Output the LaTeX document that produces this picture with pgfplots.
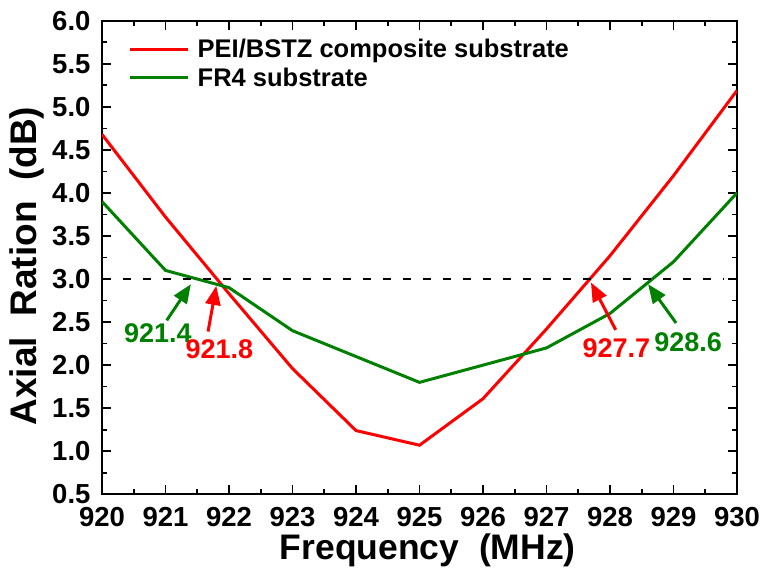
\documentclass[border=0pt]{standalone}
\usepackage{pgfplots}
\pgfplotsset{compat=1.18}
\usepackage{fontspec}
\setmainfont{Liberation Sans}
\usetikzlibrary{arrows.meta}

\definecolor{arred}{RGB}{255,0,0}
\definecolor{argreen}{RGB}{0,128,0}

\begin{document}
\begin{tikzpicture}[x=1pt,y=1pt]
\path[use as bounding box] (-102,-73.7) rectangle (659,494.3);
\begin{axis}[
  scale only axis, width=635pt, height=473.6pt,
  xmin=920, xmax=930, ymin=0.5, ymax=6.0,
  xtick={920,921,922,923,924,925,926,927,928,929,930},
  ytick={0.5,1.0,1.5,2.0,2.5,3.0,3.5,4.0,4.5,5.0,5.5,6.0},
  minor x tick num=1, minor y tick num=1,
  tick align=inside,
  major tick length=9pt, minor tick length=5pt,
  axis line style={line width=2pt},
  tick style={line width=1.6pt, black},
  /pgf/number format/assume math mode=true,
  ticklabel style={font=\fontsize{27.5}{27.5}\selectfont\bfseries},
  yticklabel style={xshift=-8pt, /pgf/number format/.cd, fixed, fixed zerofill, precision=1},
  xticklabel style={yshift=-9pt},
  xlabel={Frequency\ \ (MHz)}, ylabel={Axial\ \ Ration\ \ (dB)},
  xlabel style={font=\fontsize{35.5}{35.5}\selectfont\bfseries,
    at={(axis description cs:0.513,-0.1387)}, anchor=base},
  ylabel style={font=\fontsize{37}{37}\selectfont\bfseries,
    at={(axis description cs:-0.086,0.482)}, anchor=south},
  legend style={draw=none, fill=none, at={(rel axis cs:0.037,0.975)}, anchor=north west,
    font=\fontsize{25.5}{25.5}\selectfont\bfseries,
    nodes={inner ysep=4.3pt},
    /tikz/every odd column/.append style={column sep=6pt}},
  legend cell align=left,
  legend image code/.code={\draw[#1] (0pt,0pt) -- (58pt,0pt);},
]
% axial ratio of the two antennas
\addplot[arred, line width=3pt] coordinates {
  (920,4.68) (921,3.72) (922,2.83) (923,1.96) (924,1.24) (925,1.07)
  (926,1.61) (927,2.42) (928,3.27) (929,4.20) (930,5.19)};
\addlegendentry{PEI/BSTZ composite substrate}
\addplot[argreen, line width=3pt] coordinates {
  (920,3.90) (921,3.10) (922,2.90) (923,2.40) (924,2.10) (925,1.80)
  (926,2.00) (927,2.20) (928,2.60) (929,3.20) (930,4.00)};
\addlegendentry{FR4 substrate}
% 3 dB reference
\addplot[black, line width=2pt, dash pattern=on 8pt off 12pt, forget plot]
  coordinates {(920.33,3) (929.8,3)};
% band edges
\draw[argreen, line width=3pt, -{Triangle[length=19pt,width=15pt]}]
  (axis cs:921.02,2.52) -- (axis cs:921.4,2.94);
\draw[arred, line width=3pt, -{Triangle[length=19pt,width=15pt]}]
  (axis cs:921.67,2.39) -- (axis cs:921.8,2.92);
\draw[arred, line width=3pt, -{Triangle[length=19pt,width=15pt]}]
  (axis cs:928.09,2.41) -- (axis cs:927.7,2.96);
\draw[argreen, line width=3pt, -{Triangle[length=19pt,width=15pt]}]
  (axis cs:929.04,2.49) -- (axis cs:928.6,2.94);
\node[argreen, font=\fontsize{27}{27}\selectfont\bfseries] at (axis cs:920.88,2.37) {921.4};
\node[arred, font=\fontsize{27}{27}\selectfont\bfseries] at (axis cs:921.85,2.18) {921.8};
\node[arred, font=\fontsize{27}{27}\selectfont\bfseries] at (axis cs:928.1,2.20) {927.7};
\node[argreen, font=\fontsize{27}{27}\selectfont\bfseries] at (axis cs:929.23,2.27) {928.6};
\end{axis}
\end{tikzpicture}
\end{document}
